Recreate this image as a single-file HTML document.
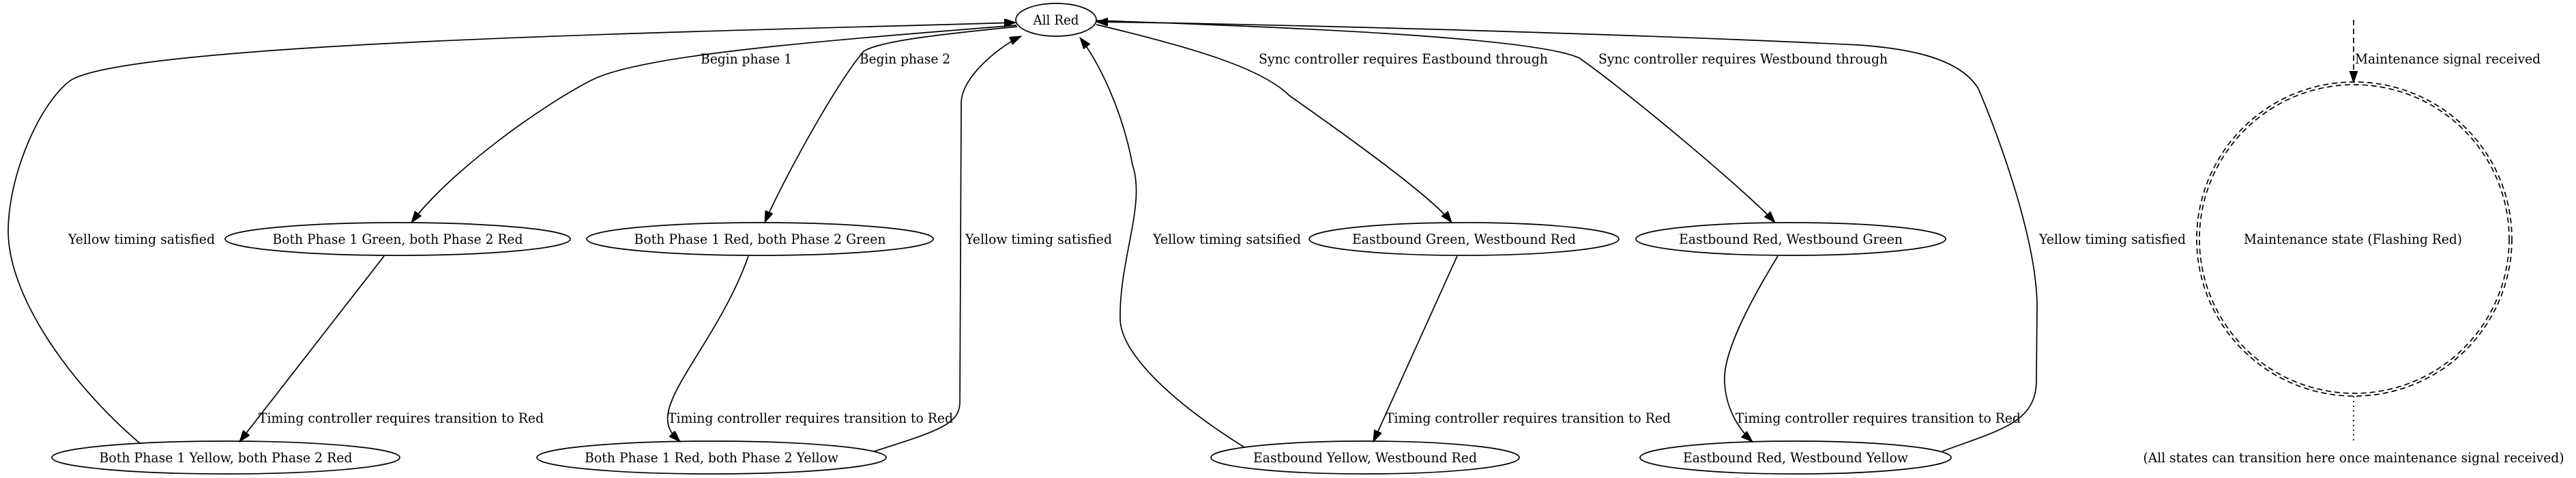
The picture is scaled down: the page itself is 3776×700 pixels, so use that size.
<!DOCTYPE html>
<html><head><meta charset="utf-8"><style>
html,body{margin:0;padding:0;background:#fff;}
svg{display:block;}
text{font-family:"DejaVu Serif","Liberation Serif",serif;font-size:20px;fill:#000;}
</style></head><body>
<svg width="3776" height="700" viewBox="0 0 3776 700" xmlns="http://www.w3.org/2000/svg">
<defs>
<marker id="a" markerUnits="userSpaceOnUse" markerWidth="20" markerHeight="14" refX="17" refY="6" orient="auto">
<path d="M0,0 L17,6 L0,12 Z" fill="#000" stroke="#000" stroke-width="1"/>
</marker>
</defs>
<g fill="none" stroke="#000" stroke-width="1.7">
<ellipse cx="1548" cy="29" rx="59" ry="24"/>
<ellipse cx="583" cy="350" rx="253" ry="24"/>
<ellipse cx="1114" cy="350" rx="254" ry="24"/>
<ellipse cx="2146" cy="350" rx="227" ry="24"/>
<ellipse cx="2625" cy="350" rx="227" ry="24"/>
<ellipse cx="331" cy="670" rx="255" ry="24"/>
<ellipse cx="1043" cy="670" rx="256" ry="24"/>
<ellipse cx="2001" cy="670" rx="226" ry="24"/>
<ellipse cx="2632" cy="670" rx="228" ry="24"/>
<ellipse cx="3451" cy="350" rx="231" ry="230" stroke-dasharray="8,5"/>
<ellipse cx="3451" cy="350" rx="227" ry="226" stroke-dasharray="8,5"/>
<path d="M206,650 C100,560 10,430 12,335 C14,250 60,150 103,118 C190,60 1100,45 1489,33" marker-end="url(#a)"/>
<path d="M1490,37 C1200,60 950,80 872,115 C800,150 660,250 603,326" marker-end="url(#a)"/>
<path d="M1491,39 C1380,50 1290,60 1266,75 C1220,130 1140,280 1121,326" marker-end="url(#a)"/>
<path d="M563,375 L351,647" marker-end="url(#a)"/>
<path d="M1097,375 C1060,480 985,560 979,607 C976,630 990,640 997,647" marker-end="url(#a)"/>
<path d="M1281,661 C1380,630 1406,620 1407,590 L1409,150 C1410,110 1470,65 1497,53" marker-end="url(#a)"/>
<path d="M1824,655 C1720,590 1645,520 1642,469 C1640,380 1680,300 1660,241 C1645,160 1610,90 1583,55" marker-end="url(#a)"/>
<path d="M1607,36 C1750,70 1850,100 1890,140 C1990,210 2100,290 2128,326" marker-end="url(#a)"/>
<path d="M1606,30 C1900,40 2250,55 2315,85 C2380,130 2560,280 2602,326" marker-end="url(#a)"/>
<path d="M2847,661 C2930,630 2983,620 2985,560 L2986,447 C2985,350 2930,200 2900,130 C2870,80 2780,70 2726,66 C2400,50 1900,36 1607,32" marker-end="url(#a)"/>
<path d="M2136,375 L2013,647" marker-end="url(#a)"/>
<path d="M2606,375 C2560,450 2525,520 2528,560 C2530,600 2550,630 2569,647" marker-end="url(#a)"/>
<path d="M3450,29 L3450,121" stroke-dasharray="8,5" marker-end="url(#a)"/>
<path d="M3450,580 L3450,645" stroke-dasharray="2,5"/>
</g>
<g text-anchor="middle" lengthAdjust="spacingAndGlyphs">
<text x="1548" y="36" textLength="67" lengthAdjust="spacingAndGlyphs">All Red</text>
<text x="583" y="357" textLength="367" lengthAdjust="spacingAndGlyphs">Both Phase 1 Green, both Phase 2 Red</text>
<text x="1114" y="357" textLength="369" lengthAdjust="spacingAndGlyphs">Both Phase 1 Red, both Phase 2 Green</text>
<text x="2146" y="357" textLength="328" lengthAdjust="spacingAndGlyphs">Eastbound Green, Westbound Red</text>
<text x="2625" y="357" textLength="328" lengthAdjust="spacingAndGlyphs">Eastbound Red, Westbound Green</text>
<text x="331" y="677" textLength="371" lengthAdjust="spacingAndGlyphs">Both Phase 1 Yellow, both Phase 2 Red</text>
<text x="1043" y="677" textLength="372" lengthAdjust="spacingAndGlyphs">Both Phase 1 Red, both Phase 2 Yellow</text>
<text x="2001" y="677" textLength="328" lengthAdjust="spacingAndGlyphs">Eastbound Yellow, Westbound Red</text>
<text x="2632" y="677" textLength="330" lengthAdjust="spacingAndGlyphs">Eastbound Red, Westbound Yellow</text>
<text x="3449" y="357" textLength="320" lengthAdjust="spacingAndGlyphs">Maintenance state (Flashing Red)</text>
<text x="3450" y="677" textLength="617" lengthAdjust="spacingAndGlyphs">(All states can transition here once maintenance signal received)</text>
</g>
<text x="1027" y="93" textLength="134" lengthAdjust="spacingAndGlyphs">Begin phase 1</text>
<text x="1260" y="93" textLength="133" lengthAdjust="spacingAndGlyphs">Begin phase 2</text>
<text x="1845" y="93" textLength="424" lengthAdjust="spacingAndGlyphs">Sync controller requires Eastbound through</text>
<text x="2343" y="93" textLength="424" lengthAdjust="spacingAndGlyphs">Sync controller requires Westbound through</text>
<text x="3452" y="93" textLength="272" lengthAdjust="spacingAndGlyphs">Maintenance signal received</text>
<text x="100" y="357" textLength="215" lengthAdjust="spacingAndGlyphs">Yellow timing satisfied</text>
<text x="1415" y="357" textLength="215" lengthAdjust="spacingAndGlyphs">Yellow timing satisfied</text>
<text x="1690" y="357" textLength="217" lengthAdjust="spacingAndGlyphs">Yellow timing satsified</text>
<text x="2989" y="357" textLength="215" lengthAdjust="spacingAndGlyphs">Yellow timing satisfied</text>
<text x="379" y="619" textLength="418" lengthAdjust="spacingAndGlyphs">Timing controller requires transition to Red</text>
<text x="979" y="619" textLength="418" lengthAdjust="spacingAndGlyphs">Timing controller requires transition to Red</text>
<text x="2031" y="619" textLength="418" lengthAdjust="spacingAndGlyphs">Timing controller requires transition to Red</text>
<text x="2544" y="619" textLength="418" lengthAdjust="spacingAndGlyphs">Timing controller requires transition to Red</text>
</svg>
</body></html>
